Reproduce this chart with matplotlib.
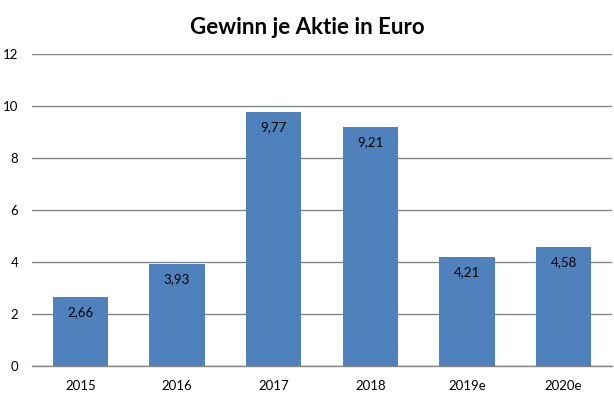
import matplotlib
matplotlib.use("Agg")
import matplotlib.pyplot as plt

categories = ["2015", "2016", "2017", "2018", "2019e", "2020e"]
values = [2.66, 3.93, 9.77, 9.21, 4.21, 4.58]
labels = ["2,66", "3,93", "9,77", "9,21", "4,21", "4,58"]
yticks = [0, 2, 4, 6, 8, 10, 12]

plt.rcParams['font.family'] = ['Lato', 'DejaVu Sans']

fig = plt.figure(figsize=(6.14, 3.97), dpi=100)
ax = fig.add_axes([32/614, 1 - 366.3/397, 580/614, 312/397])

x = list(range(len(categories)))
bars = ax.bar(x, values, width=0.57, color="#4F81BD", zorder=3)
for xi, v, lab in zip(x, values, labels):
    ax.annotate(lab, (xi, v), xytext=(0, -11), textcoords="offset points",
                ha="center", va="center", fontsize=9.5, color="#000000", zorder=4)

ax.set_xlim(-0.5, len(categories) - 0.5)
ax.set_ylim(0, 12)
ax.set_yticks(yticks)
ax.set_yticklabels([str(t) for t in yticks], fontsize=9.5)
ax.set_xticks(x)
ax.set_xticklabels(categories, fontsize=9.5)
ax.tick_params(axis="both", length=0)
ax.tick_params(axis="y", pad=10)
ax.tick_params(axis="x", pad=10)
ax.yaxis.grid(True, color="#868686", linewidth=1.0, zorder=0)
for s in ["left", "right", "top"]:
    ax.spines[s].set_visible(False)
ax.spines["bottom"].set_color("#868686")
ax.spines["bottom"].set_linewidth(1.0)

fig.text(0.5, 1 - 28/397, "Gewinn je Aktie in Euro", ha="center", va="center",
         fontsize=16, fontweight="bold", color="#000000")

fig.savefig("out.png", dpi=100)
